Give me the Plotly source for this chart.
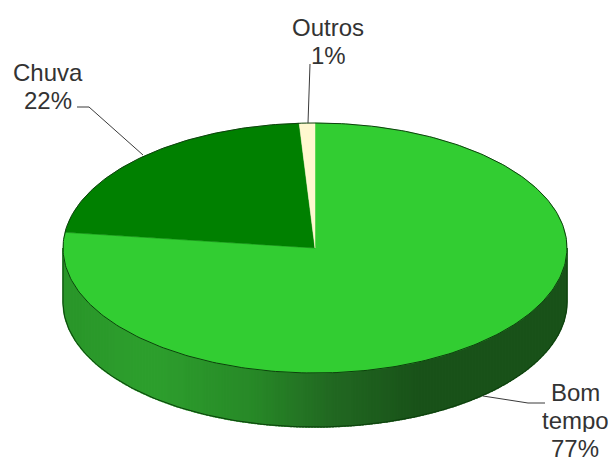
import numpy as np
import plotly.graph_objects as go

labels = ["Bom<br>tempo", "Chuva", "Outros"]
values = [77, 22, 1]
slice_colors = ["#32CD32", "#008000", "#FFF8CF"]

# Geometry of the tilted disc, in the 611x461 plot coordinates
CX, CY, RX, RY, DEPTH = 315, 248, 252, 125, 54
RIM = "#0C400C"

# Shading of the wall from left to right
shade_x = [63, 150, 250, 330, 420, 567]
shade_r = [42, 46, 40, 34, 25, 25]
shade_g = [150, 160, 138, 105, 82, 82]
shade_b = [42, 46, 40, 34, 25, 25]


def rim(t):
    return CX + RX * np.sin(t), CY - RY * np.cos(t)


fig = go.Figure()


def poly(x, y, fill, line=None, width=0.0):
    fig.add_trace(go.Scatter(
        x=x, y=y, mode="lines", fill="toself", fillcolor=fill,
        line=dict(color=line or fill, width=width), hoverinfo="skip", showlegend=False))


# Wall of the disc: front half of the rim, in vertical strips of equal width
xe = np.linspace(CX + RX, CX - RX, 169)
edges = np.pi - np.arcsin((xe - CX) / RX)
for a, b in zip(edges[:-1], edges[1:]):
    sub = np.linspace(a, b, 5)
    xs, ys = rim(sub)
    xm = xs.mean()
    c = "rgb(%d,%d,%d)" % tuple(np.interp(xm, shade_x, s) for s in (shade_r, shade_g, shade_b))
    poly(np.r_[xs, xs[::-1], xs[0]], np.r_[ys, ys[::-1] + DEPTH, ys[0]], c, c, 1.5)

# Outline of the wall
t = np.radians(np.linspace(90, 270, 181))
xr, yr = rim(t)
fig.add_trace(go.Scatter(x=xr, y=yr + DEPTH, mode="lines",
                         line=dict(color=RIM, width=1), hoverinfo="skip", showlegend=False))
for v in (90, 270):
    xv, yv = rim(np.radians(v))
    fig.add_trace(go.Scatter(x=[xv, xv], y=[yv, yv + DEPTH], mode="lines",
                             line=dict(color=RIM, width=1), hoverinfo="skip", showlegend=False))

# Top face: the slices, clockwise from twelve o'clock
cum = np.cumsum([0] + values) / sum(values) * 2 * np.pi
for i, color in enumerate(slice_colors):
    a = np.linspace(cum[i], cum[i + 1], max(3, int(values[i] * 5)))
    xs, ys = rim(a)
    poly(np.r_[CX, xs, CX], np.r_[CY, ys, CY], color, color, 0.5)

# Top outline
t = np.radians(np.linspace(0, 360, 361))
xr, yr = rim(t)
fig.add_trace(go.Scatter(x=xr, y=yr, mode="lines", line=dict(color=RIM, width=1),
                         hoverinfo="skip", showlegend=False))

# Leader lines
leaders = [
    ([77, 89, 143], [107, 107, 155]),
    ([310, 308], [64, 123]),
    ([545, 528, 483], [403, 403, 396]),
]
for lx, ly in leaders:
    fig.add_trace(go.Scatter(x=lx, y=ly, mode="lines", line=dict(color="#3a3a3a", width=1),
                             hoverinfo="skip", showlegend=False))

# Labels, one annotation per line for the tight line spacing
label_pos = [(575, 392), (48, 72), (328, 27)]
LINE = 28
for name, val, (x, y) in zip(labels, values, label_pos):
    for k, line in enumerate(name.split("<br>") + [f"{val}%"]):
        fig.add_annotation(x=x, y=y + k * LINE, text=line, showarrow=False,
                           xanchor="center", yanchor="middle", height=24, borderpad=0,
                           font=dict(family="Liberation Sans", size=24, color="#333333"))

fig.update_layout(
    width=611, height=461, margin=dict(l=0, r=0, t=0, b=0),
    paper_bgcolor="white", plot_bgcolor="white", showlegend=False,
    xaxis=dict(range=[0, 611], visible=False, fixedrange=True),
    yaxis=dict(range=[461, 0], visible=False, fixedrange=True),
)
fig.write_html("out.html", config=dict(displayModeBar=False),
               post_script="document.body.style.margin='0';document.body.style.overflow='hidden';")
